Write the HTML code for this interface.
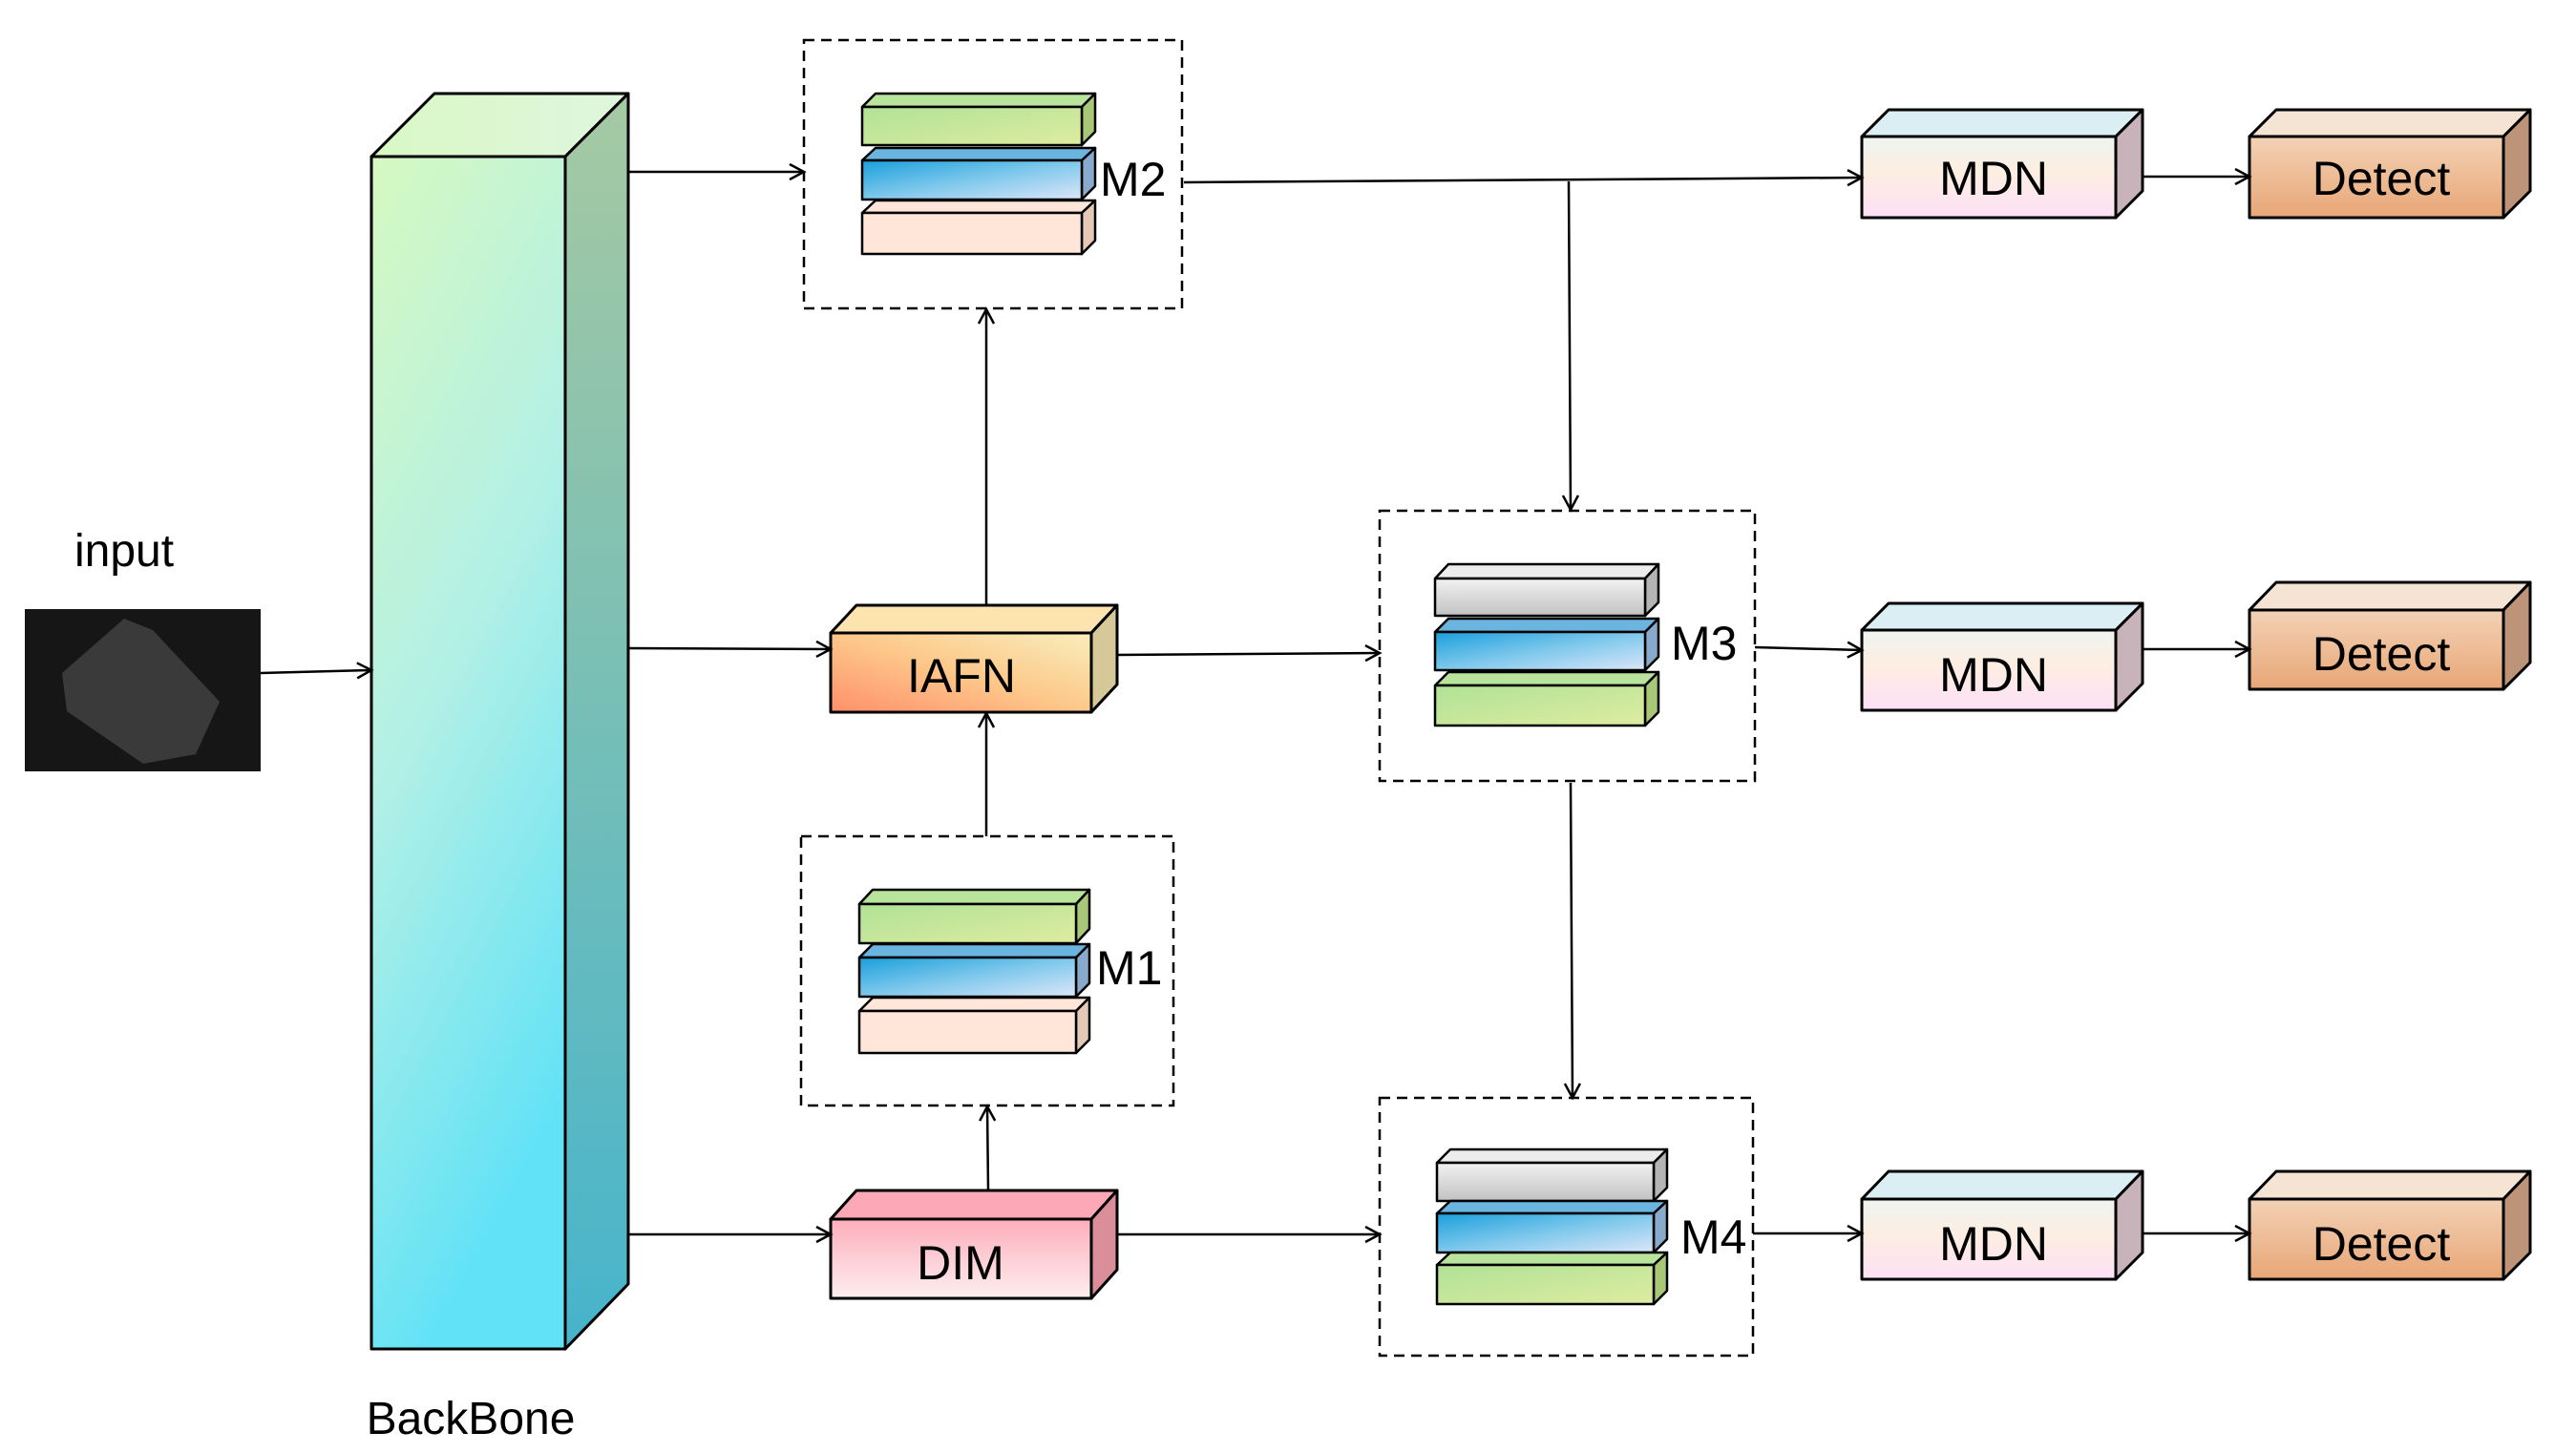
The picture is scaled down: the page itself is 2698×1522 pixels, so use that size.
<!DOCTYPE html>
<html><head><meta charset="utf-8"><style>
html,body{margin:0;padding:0;background:#fff}
svg{display:block}
text{font-family:"Liberation Sans",Arial,sans-serif;fill:#000}
</style></head><body>
<svg width="2698" height="1522" viewBox="0 0 2698 1522" xmlns="http://www.w3.org/2000/svg">
<defs>
<marker id="a" markerWidth="20" markerHeight="20" refX="17" refY="9" orient="auto" markerUnits="userSpaceOnUse">
<path d="M2,1 L17,9 L2,17" fill="none" stroke="#000" stroke-width="2.5"/></marker>
<linearGradient id="bbF" x1="0" y1="0" x2="0.3" y2="1"><stop offset="0" stop-color="#d6f9c0"/><stop offset="0.5" stop-color="#b2f0e6"/><stop offset="1" stop-color="#62e2f6"/></linearGradient>
<linearGradient id="bbS" x1="0" y1="0" x2="0" y2="1"><stop offset="0" stop-color="#a6c9a2"/><stop offset="1" stop-color="#46b4cc"/></linearGradient>
<linearGradient id="bbT" x1="0" y1="0" x2="1" y2="0"><stop offset="0" stop-color="#d8f8c4"/><stop offset="1" stop-color="#e0f6de"/></linearGradient>
<linearGradient id="iaF" x1="0" y1="1" x2="1" y2="0"><stop offset="0" stop-color="#ff8f6a"/><stop offset="0.5" stop-color="#fdc88a"/><stop offset="1" stop-color="#f8eebc"/></linearGradient>
<linearGradient id="diF" x1="0" y1="0" x2="0" y2="1"><stop offset="0" stop-color="#fdaebb"/><stop offset="1" stop-color="#fdeef0"/></linearGradient>
<linearGradient id="mdF" x1="0" y1="0" x2="0" y2="1"><stop offset="0" stop-color="#eef4f0"/><stop offset="0.45" stop-color="#fdeee2"/><stop offset="1" stop-color="#fde0f6"/></linearGradient>
<linearGradient id="deF" x1="0" y1="0" x2="0" y2="1"><stop offset="0" stop-color="#f3d2b6"/><stop offset="1" stop-color="#e8a676"/></linearGradient>
<linearGradient id="gF" x1="0" y1="0" x2="1" y2="1"><stop offset="0" stop-color="#b0e296"/><stop offset="1" stop-color="#deeca0"/></linearGradient>
<linearGradient id="bF" x1="0" y1="0" x2="1" y2="1"><stop offset="0" stop-color="#1a9fdb"/><stop offset="0.5" stop-color="#7ec8ec"/><stop offset="1" stop-color="#dce6f8"/></linearGradient>
<linearGradient id="yF" x1="0" y1="0" x2="0" y2="1"><stop offset="0" stop-color="#f2f2f2"/><stop offset="1" stop-color="#c2c2c2"/></linearGradient>
</defs>
<g stroke="#000" stroke-width="3" stroke-linejoin="round">
<polygon points="389,164 455,98 658,98 592,164" fill="url(#bbT)"/>
<polygon points="592,164 658,98 658,1345 592,1413" fill="url(#bbS)"/>
<rect x="389" y="164" width="203" height="1249" fill="url(#bbF)"/>
</g>
<rect x="26" y="638" width="247" height="170" fill="#161616"/>
<polygon points="65,705 130,648 160,660 230,735 205,790 150,800 70,745" fill="#3a3a3a"/>
<text x="130" y="593" font-size="48" text-anchor="middle">input</text>
<text x="493" y="1502" font-size="48" text-anchor="middle">BackBone</text>

<g fill="none" stroke="#000" stroke-width="2.5" stroke-dasharray="11,7">
<rect x="842" y="42" width="396" height="281"/>
<rect x="839" y="876" width="390" height="282"/>
<rect x="1445" y="535" width="393" height="283"/>
<rect x="1445" y="1150" width="391" height="270"/>
</g>

<g stroke="#000" stroke-width="3" stroke-linejoin="round">
<polygon points="870,663 897,634 1170,634 1143,663" fill="#fde4ae"/>
<polygon points="1143,663 1170,634 1170,717 1143,746" fill="#d6c898"/>
<rect x="870" y="663" width="273" height="83" fill="url(#iaF)"/>
<polygon points="870,1277 897,1247 1170,1247 1143,1277" fill="#fca8b6"/>
<polygon points="1143,1277 1170,1247 1170,1330 1143,1360" fill="#d98e9a"/>
<rect x="870" y="1277" width="273" height="83" fill="url(#diF)"/>
<polygon points="1950,143 1978,115 2244,115 2216,143" fill="#dbeef4"/>
<polygon points="2216,143 2244,115 2244,200 2216,228" fill="#c9b3ba"/>
<rect x="1950" y="143" width="266" height="85" fill="url(#mdF)"/>
<polygon points="2356,143 2384,115 2650,115 2622,143" fill="#f5e3d4"/>
<polygon points="2622,143 2650,115 2650,200 2622,228" fill="#be9478"/>
<rect x="2356" y="143" width="266" height="85" fill="url(#deF)"/>
<polygon points="1950,660 1978,632 2244,632 2216,660" fill="#dbeef4"/>
<polygon points="2216,660 2244,632 2244,716 2216,744" fill="#c9b3ba"/>
<rect x="1950" y="660" width="266" height="84" fill="url(#mdF)"/>
<polygon points="2356,639 2384,610 2650,610 2622,639" fill="#f5e3d4"/>
<polygon points="2622,639 2650,610 2650,694 2622,722" fill="#be9478"/>
<rect x="2356" y="639" width="266" height="83" fill="url(#deF)"/>
<polygon points="1950,1256 1978,1227 2244,1227 2216,1256" fill="#dbeef4"/>
<polygon points="2216,1256 2244,1227 2244,1312 2216,1340" fill="#c9b3ba"/>
<rect x="1950" y="1256" width="266" height="84" fill="url(#mdF)"/>
<polygon points="2356,1256 2384,1227 2650,1227 2622,1256" fill="#f5e3d4"/>
<polygon points="2622,1256 2650,1227 2650,1312 2622,1340" fill="#be9478"/>
<rect x="2356" y="1256" width="266" height="84" fill="url(#deF)"/>
</g>

<g stroke="#000" stroke-width="2.5" stroke-linejoin="round">
<polygon points="903,112 917,98 1147,98 1133,112" fill="#b8e49c"/><polygon points="1133,112 1147,98 1147,138 1133,152" fill="#a8c878"/><rect x="903" y="112" width="230" height="40" fill="url(#gF)"/>
<polygon points="903,168 917,155 1147,155 1133,168" fill="#6ab4e0"/><polygon points="1133,168 1147,155 1147,195 1133,209" fill="#88aacc"/><rect x="903" y="168" width="230" height="41" fill="url(#bF)"/>
<polygon points="903,223 917,210 1147,210 1133,223" fill="#ffe6d8"/><polygon points="1133,223 1147,210 1147,252 1133,266" fill="#e6c8b6"/><rect x="903" y="223" width="230" height="43" fill="#ffe6d8"/>
<polygon points="900,947 914,932 1141,932 1127,947" fill="#b8e49c"/><polygon points="1127,947 1141,932 1141,973 1127,988" fill="#a8c878"/><rect x="900" y="947" width="227" height="41" fill="url(#gF)"/>
<polygon points="900,1003 914,989 1141,989 1127,1003" fill="#6ab4e0"/><polygon points="1127,1003 1141,989 1141,1030 1127,1044" fill="#88aacc"/><rect x="900" y="1003" width="227" height="41" fill="url(#bF)"/>
<polygon points="900,1059 914,1045 1141,1045 1127,1059" fill="#ffe6d8"/><polygon points="1127,1059 1141,1045 1141,1089 1127,1103" fill="#e6c8b6"/><rect x="900" y="1059" width="227" height="44" fill="#ffe6d8"/>
<polygon points="1503,606 1517,591 1737,591 1723,606" fill="#ececec"/><polygon points="1723,606 1737,591 1737,631 1723,645" fill="#b4b4b4"/><rect x="1503" y="606" width="220" height="39" fill="url(#yF)"/>
<polygon points="1503,662 1517,648 1737,648 1723,662" fill="#6ab4e0"/><polygon points="1723,662 1737,648 1737,688 1723,702" fill="#88aacc"/><rect x="1503" y="662" width="220" height="40" fill="url(#bF)"/>
<polygon points="1503,718 1517,704 1737,704 1723,718" fill="#b8e49c"/><polygon points="1723,718 1737,704 1737,746 1723,760" fill="#a8c878"/><rect x="1503" y="718" width="220" height="42" fill="url(#gF)"/>
<polygon points="1505,1218 1519,1204 1746,1204 1732,1218" fill="#ececec"/><polygon points="1732,1218 1746,1204 1746,1244 1732,1258" fill="#b4b4b4"/><rect x="1505" y="1218" width="227" height="40" fill="url(#yF)"/>
<polygon points="1505,1271 1519,1258 1746,1258 1732,1271" fill="#6ab4e0"/><polygon points="1732,1271 1746,1258 1746,1298 1732,1312" fill="#88aacc"/><rect x="1505" y="1271" width="227" height="41" fill="url(#bF)"/>
<polygon points="1505,1325 1519,1312 1746,1312 1732,1325" fill="#b8e49c"/><polygon points="1732,1325 1746,1312 1746,1352 1732,1366" fill="#a8c878"/><rect x="1505" y="1325" width="227" height="41" fill="url(#gF)"/>
</g>

<g font-size="50">
<text x="1152" y="205">M2</text>
<text x="1148" y="1031">M1</text>
<text x="1750" y="691">M3</text>
<text x="1760" y="1313">M4</text>
<text x="1007" y="725" text-anchor="middle">IAFN</text>
<text x="1006" y="1340" text-anchor="middle">DIM</text>
<text x="2088" y="204" text-anchor="middle">MDN</text>
<text x="2494" y="204" text-anchor="middle">Detect</text>
<text x="2088" y="724" text-anchor="middle">MDN</text>
<text x="2494" y="702" text-anchor="middle">Detect</text>
<text x="2088" y="1320" text-anchor="middle">MDN</text>
<text x="2494" y="1320" text-anchor="middle">Detect</text>
</g>

<g stroke="#000" stroke-width="2.5" fill="none">
<line x1="273" y1="705" x2="389" y2="702" marker-end="url(#a)"/>
<line x1="658" y1="180" x2="842" y2="180" marker-end="url(#a)"/>
<line x1="658" y1="679" x2="870" y2="680" marker-end="url(#a)"/>
<line x1="658" y1="1293" x2="870" y2="1293" marker-end="url(#a)"/>
<line x1="1033" y1="634" x2="1033" y2="324" marker-end="url(#a)"/>
<line x1="1033" y1="876" x2="1033" y2="747" marker-end="url(#a)"/>
<line x1="1035" y1="1247" x2="1034" y2="1159" marker-end="url(#a)"/>
<line x1="1170" y1="686" x2="1445" y2="684" marker-end="url(#a)"/>
<line x1="1170" y1="1293" x2="1445" y2="1293" marker-end="url(#a)"/>
<line x1="1240" y1="191" x2="1950" y2="186" marker-end="url(#a)"/>
<line x1="1643" y1="190" x2="1645" y2="534" marker-end="url(#a)"/>
<line x1="1645" y1="820" x2="1647" y2="1150" marker-end="url(#a)"/>
<line x1="1838" y1="678" x2="1950" y2="681" marker-end="url(#a)"/>
<line x1="1836" y1="1292" x2="1950" y2="1292" marker-end="url(#a)"/>
<line x1="2244" y1="185" x2="2356" y2="185" marker-end="url(#a)"/>
<line x1="2244" y1="680" x2="2356" y2="680" marker-end="url(#a)"/>
<line x1="2244" y1="1292" x2="2356" y2="1292" marker-end="url(#a)"/>
</g>
</svg>
</body></html>
